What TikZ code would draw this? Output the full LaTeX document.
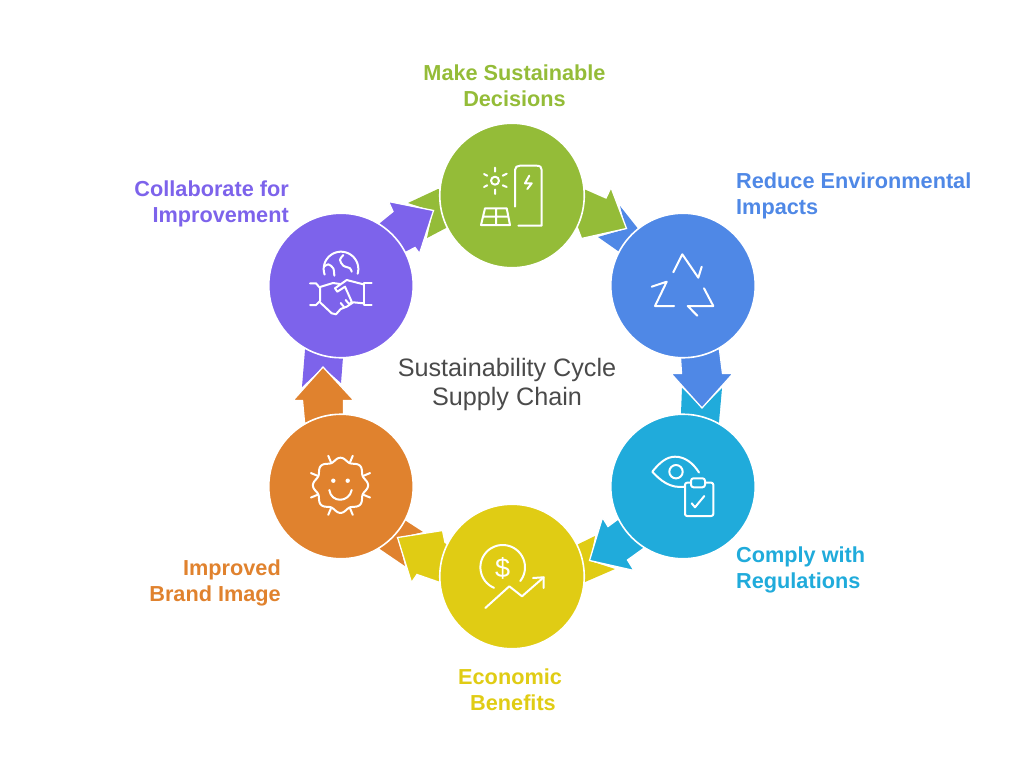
\documentclass[tikz,border=0pt]{standalone}
\usepackage{fontspec}
\setmainfont{Liberation Sans}
\usetikzlibrary{backgrounds}
\definecolor{cgreen}{HTML}{94BC38}
\definecolor{cblue}{HTML}{4F88E6}
\definecolor{ccyan}{HTML}{20ABDB}
\definecolor{cyellow}{HTML}{E0CC14}
\definecolor{corange}{HTML}{E0822E}
\definecolor{cpurple}{HTML}{7D63EB}
\definecolor{ctext}{HTML}{4A4A4A}
\tikzset{
  disc/.style={circle,draw=white,line width=1.6pt,minimum size=144.5pt,inner sep=0pt},
  wing/.style={draw=white,line width=1.3pt,line join=miter},
  icon/.style={draw=white,line width=2pt,line cap=round,line join=round},
  lab/.style={font=\fontsize{21.7}{26}\selectfont\bfseries,inner sep=0pt},
  midtext/.style={font=\fontsize{25.2}{29}\selectfont,text=ctext,align=center,inner sep=0pt}
}
\begin{document}
\begin{tikzpicture}[x=1pt,y=-1pt]
\useasboundingbox (0,0) rectangle (1024,773);
% discs
\node[disc,fill=cgreen]  (green)  at (512,195.5) {};
\node[disc,fill=cblue]   (blue)   at (683,285.5) {};
\node[disc,fill=ccyan]   (cyan)   at (683,486.5) {};
\node[disc,fill=cyellow] (yellow) at (512,576.5) {};
\node[disc,fill=corange] (orange) at (341,486.5) {};
\node[disc,fill=cpurple] (purple) at (341,285.5) {};
% tails and arrows behind the discs
\begin{scope}[on background layer]
  \fill[cblue]   (blue.center) -- (620,206) -- (626,229) -- (598,237) -- (618,251) -- cycle;
  \fill[ccyan]   (cyan.center) -- (719,422) -- (722,388) -- (702,408) -- (682,388) -- (681,413) -- cycle;
  \fill[cyellow] (yellow.center) -- (595,536) -- (590,561) -- (615,569) -- (585,582) -- cycle;
  \fill[corange] (orange.center) -- (406,521) -- (423,532) -- (398,538) -- (405,566) -- (380,549) -- cycle;
  \fill[cpurple] (purple.center) -- (343,357) -- (341,383) -- (323,367) -- (302,387) -- (305,350) -- cycle;
  \fill[cgreen]  (green.center) -- (446,228) -- (427,238) -- (433,211) -- (408,203) -- (438,189) -- cycle;
  \filldraw[wing,fill=cgreen]  (green.center) -- (584.5,188.5) -- (606,198) -- (611,187.5) -- (626.5,228.5) -- (581.5,238.5) -- (577.5,228) -- cycle;
  \filldraw[wing,fill=cblue]   (blue.center) -- (719.5,350) -- (722.5,373.5) -- (733,373.5) -- (702,408) -- (671,373.5) -- (681.5,373.5) -- (680.5,358) -- cycle;
  \filldraw[wing,fill=ccyan]   (cyan.center) -- (643.5,548.5) -- (627.5,560) -- (634,570.5) -- (589.5,560.5) -- (602.5,517.5) -- (608,526.5) -- (617.5,519.5) -- cycle;
  \filldraw[wing,fill=cyellow] (yellow.center) -- (445,542.5) -- (442.5,530.5) -- (397.5,537.5) -- (411.5,582.5) -- (417,574.5) -- (440,582.5) -- cycle;
  \filldraw[wing,fill=corange] (orange.center) -- (304.5,422) -- (302.5,400.5) -- (293,400.5) -- (323,367) -- (354,400.5) -- (343.5,400.5) -- (343.5,413) -- cycle;
  \filldraw[wing,fill=cpurple] (purple.center) -- (379.5,222.5) -- (393,211.5) -- (388.5,201.5) -- (433.5,210.5) -- (419.5,253.5) -- (415,247.5) -- (405.5,252.5) -- cycle;
\end{scope}
% labels
\node[lab,text=cgreen,align=center]  (lgreen)  at (514.5,86) {Make Sustainable\\Decisions};
\node[lab,text=cblue,align=left,anchor=west]    (lblue)   at (736,196) {Reduce Environmental\\Impacts};
\node[lab,text=ccyan,align=left,anchor=west]    (lcyan)   at (736,570) {Comply with\\Regulations};
\node[lab,text=cyellow,align=left,anchor=west]  (lyellow) at (458,689.5) {Economic\\\hspace*{12pt}Benefits};
\node[lab,text=corange,align=right,anchor=east] (lorange) at (281,583) {Improved\\Brand Image};
\node[lab,text=cpurple,align=right,anchor=east] (lpurple) at (289,204) {Collaborate for\\Improvement};
\node[midtext] (title) at (507,384.5) {Sustainability Cycle\\Supply Chain};
% icon: green
\draw[icon] (495,180.7) circle (4);
\draw[icon] (495,167.7)--(495,171.7) (495,189.5)--(495,194) (484,174)--(487.3,175.7) (502.7,175.7)--(506.7,173.7) (484,187)--(487.3,185.3) (502.7,185.3)--(506.7,187);
\draw[icon] (515,206.7) -- (515,170) .. controls (515,167) and (517,165.7) .. (520,165.7) -- (536.7,165.7) .. controls (540,165.7) and (541.7,167) .. (541.7,170) -- (541.7,225.7) -- (518.3,225.7);
\draw[icon] (529.3,175.7) -- (525,183.3) -- (531.7,183.3) -- (527.3,189);
\draw[icon] (485,208.3) -- (506.7,208.3) -- (510,225) -- (481,225) -- cycle (483,216.7) -- (508.3,216.7) (496,208.3) -- (496,225);
% icon: blue
\draw[icon] (673.3,272.3) -- (682.3,254.3) -- (698.3,277.7) -- (701.7,266.7);
\draw[icon] (651.7,286.7) -- (666.7,281.7) -- (655,306) -- (674,306);
\draw[icon] (704,288.3) -- (713.3,306) -- (687.7,306) -- (697.3,315.7);
% icon: cyan
\draw[icon] (685,486.6) .. controls (670,489) and (660,480) .. (652.3,471.7) .. controls (660,462) and (667,456.7) .. (675,456.7) .. controls (685,456.7) and (693,463) .. (699,472.5);
\draw[icon] (676,471.7) circle (6.7);
\draw[icon,rounded corners=2pt,fill=ccyan] (685,482.7) rectangle (713.3,516);
\draw[icon,rounded corners=2.5pt,fill=ccyan] (691,478.3) rectangle (705,487.3);
\draw[icon] (691.7,503.3) -- (695,507.3) -- (704.3,496);
% icon: yellow
\draw[icon] plot[domain=113:398,samples=50] ({502.7+22.3*cos(\x)},{567.3+22.3*sin(\x)});
\node[text=white,font=\fontsize{27}{27}\selectfont,inner sep=0pt] (dollar) at (502.7,568.5) {\$};
\draw[icon] (485.3,608) -- (509.3,586.3) -- (522,596.3) -- (543.7,577.3);
\draw[icon] (533,578) -- (543.7,577.3) -- (543.7,588);
% icon: orange
\draw[icon] plot[domain=0:360,samples=145,smooth] ({340.5+(25.8+1.8*cos(8*\x))*cos(\x)},{485.3+(25.8+1.8*cos(8*\x))*sin(\x)}) -- cycle;
\foreach \a in {22.5,67.5,...,337.5}
  \draw[icon] ({340.5+25*cos(\a)},{485.3+25*sin(\a)}) -- ({340.5+32*cos(\a)},{485.3+32*sin(\a)});
\fill[white] (333.3,480.7) circle (2.2) (347.7,480.7) circle (2.2);
\draw[icon] (329.3,490) .. controls (331,503) and (349,503) .. (351.7,490);
% icon: purple
\draw[icon] plot[domain=161:376,samples=40] ({341+17.3*cos(\x)},{269+17.3*sin(\x)});
\draw[icon] plot[smooth] coordinates {(324,266.7) (328.3,264.3) (333.3,268.3) (334.3,275.7)};
\draw[icon] plot[smooth] coordinates {(343.3,255) (340,260) (343.3,265.7) (350,268.3) (351.7,271.7)};
\draw[icon] (310,283.3) -- (316,283.3) -- (320,288) -- (320,301) -- (316,305) -- (310,305);
\draw[icon] (371.7,283.3) -- (364,283.3) -- (364,305) -- (371.7,305);
\draw[icon] (320,287) -- (333,283) -- (340,284);
\draw[icon] (335,288.3) -- (346.7,280) -- (363.3,284.3);
\draw[icon] (335,288.3) -- (337.3,291.7) -- (345,286.7) -- (351.7,301.7) -- (349.3,304.3);
\draw[icon] (320,302.3) -- (331.7,313.3) -- (336,314.3) -- (340.7,309) -- (346.7,306.7) -- (353.3,302.3) -- (363.3,303.3);
\draw[icon] (340.7,303) -- (344,307) (345.7,300) -- (349,304);
\end{tikzpicture}
\end{document}
